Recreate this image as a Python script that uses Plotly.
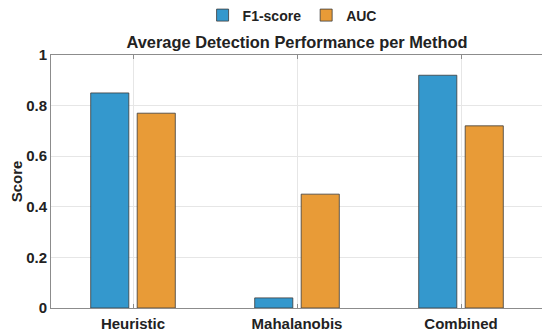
import plotly.graph_objects as go

methods = ["Heuristic", "Mahalanobis", "Combined"]
f1_scores = [0.85, 0.04, 0.92]
auc_scores = [0.77, 0.45, 0.72]
y_ticks = [0, 0.2, 0.4, 0.6, 0.8, 1]
y_tick_labels = ["0", "0.2", "0.4", "0.6", "0.8", "1"]

FONT = "Liberation Sans, Arial, sans-serif"
BLUE = "#3498cd"
ORANGE = "#e89b37"
TXT = "#222222"

# the page body adds an 8px offset; figure is sized to fit inside the window
W, H = 542, 326

fig = go.Figure()
fig.add_trace(go.Bar(x=[1, 2, 3], y=f1_scores, name="<b>F1-score</b>",
                     marker=dict(color=BLUE, line=dict(color="#3a3a3a", width=0.8))))
fig.add_trace(go.Bar(x=[1, 2, 3], y=auc_scores, name="<b>AUC</b>",
                     marker=dict(color=ORANGE, line=dict(color="#3a3a3a", width=0.8))))

fig.update_layout(
    width=W, height=H,
    margin=dict(l=43, r=7, t=47, b=26, autoexpand=False),
    paper_bgcolor="white", plot_bgcolor="white",
    barmode="group", bargap=0.433, bargroupgap=0.18,
    font=dict(family=FONT, color=TXT),
    title=dict(text="<b>Average Detection Performance per Method</b>",
               x=0.5, xref="paper", xanchor="center",
               y=1 - 34 / H, yref="container", yanchor="middle",
               font=dict(size=16.4, family=FONT, color=TXT)),
    legend=dict(orientation="h", x=0.49, xanchor="center", xref="paper",
                y=1 + 39.5 / 253, yref="paper", yanchor="middle",
                font=dict(size=14, family=FONT, color=TXT),
                bgcolor="rgba(0,0,0,0)", itemwidth=30, traceorder="normal"),
    xaxis=dict(range=[0.5, 3.5], tickmode="array", tickvals=[1, 2, 3],
               ticktext=["<b>%s</b>" % m for m in methods],
               tickfont=dict(size=15, family=FONT, color=TXT),
               showgrid=True, gridcolor="#e6e6e6", gridwidth=1,
               showline=True, linecolor="#8c8c8c", linewidth=1, mirror="ticks",
               ticks="inside", ticklen=4, tickcolor="#8c8c8c",
               ticklabelstandoff=2,
               zeroline=False, fixedrange=True, automargin=False),
    yaxis=dict(range=[0, 1], tickmode="array", tickvals=y_ticks,
               ticktext=["<b>%s</b>" % t for t in y_tick_labels],
               tickfont=dict(size=15, family=FONT, color=TXT),
               title=dict(text="<b>Score</b>", font=dict(size=15, family=FONT, color=TXT),
                          standoff=12),
               showgrid=True, gridcolor="#e6e6e6", gridwidth=1,
               showline=True, linecolor="#8c8c8c", linewidth=1, mirror="ticks",
               ticks="inside", ticklen=0, tickcolor="#8c8c8c",
               zeroline=False, fixedrange=True, automargin=False),
)

fig.write_html("out.html")
